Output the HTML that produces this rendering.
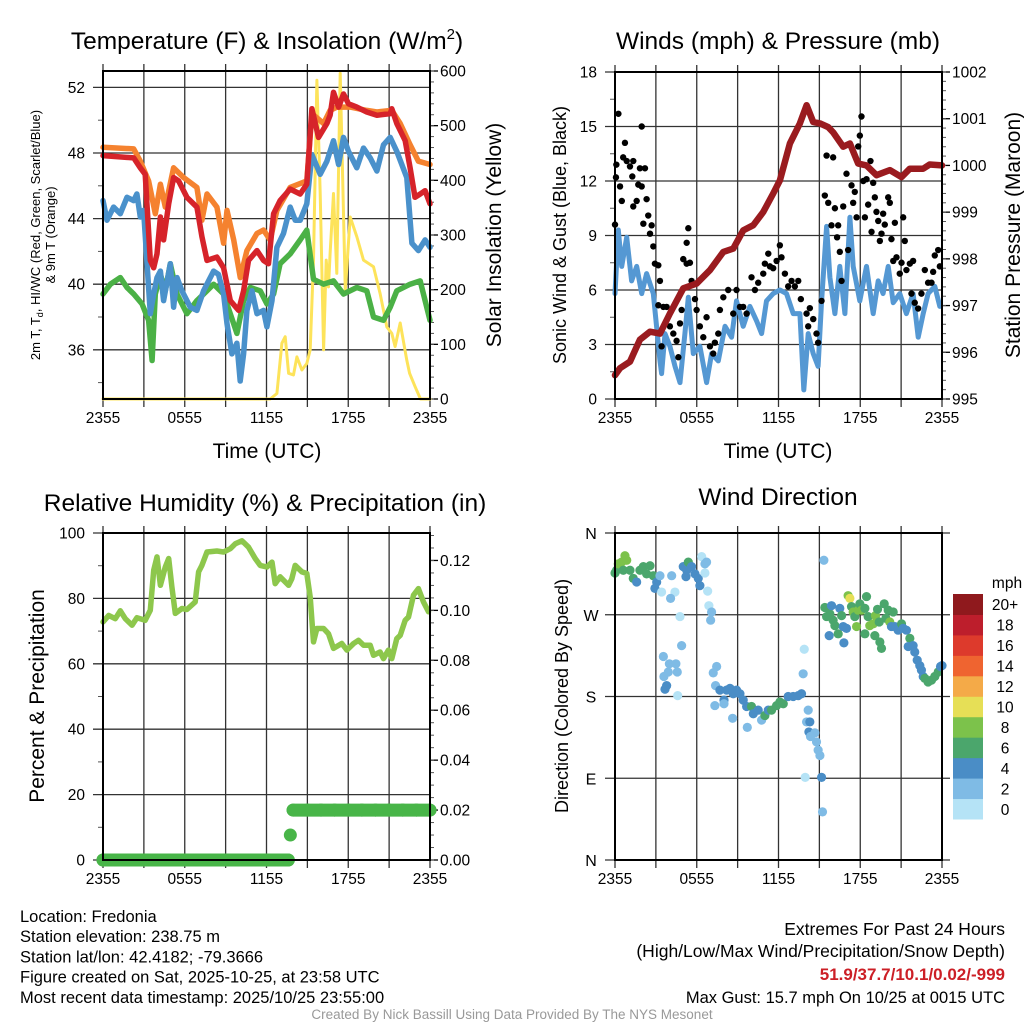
<!DOCTYPE html>
<html><head><meta charset="utf-8"><style>
html,body{margin:0;padding:0;background:#fff;}
svg{display:block;font-family:"Liberation Sans",Arial,sans-serif;}
</style></head><body>
<svg id="s" width="1024" height="1024" viewBox="0 0 1024 1024" xmlns="http://www.w3.org/2000/svg"></svg>
<script>
// ---------- DATA ----------
const xTickLabels = ["2355","0555","1155","1755","2355"];
// Temperature panel [hour, degF]
const tRed = [[0,47.84],[2.25,47.7],[2.74,47.1],[3.1,46.7],[3.47,41.45],[3.72,41.0],[3.96,41.85],[4.21,44.1],[4.45,42.7],[4.82,44.9],[5.18,46.5],[5.55,46.3],[6.16,45.3],[6.89,44.7],[7.26,42.9],[7.63,41.45],[8.36,41.65],[8.85,41.0],[9.34,39.0],[9.95,38.4],[10.32,39.6],[10.68,41.45],[11.3,42.05],[11.78,41.45],[12.15,41.25],[12.52,44.3],[13.0,45.1],[13.74,45.8],[14.47,45.5],[14.96,46.1],[15.33,50.7],[15.82,48.95],[16.43,49.8],[16.67,50.3],[16.92,51.7],[17.29,50.8],[17.65,51.6],[18.02,51.0],[18.63,50.8],[19.36,50.5],[20.1,50.3],[21.08,50.4],[21.2,50.7],[21.56,49.8],[22.18,48.75],[22.54,47.1],[22.9,45.3],[23.28,45.5],[23.64,45.7],[24,44.9]];
const tOrange = [[0,48.35],[2.25,48.25],[2.74,47.5],[3.35,46.3],[3.84,44.3],[4.21,46.1],[4.57,44.7],[5.18,47.1],[5.92,46.5],[6.89,45.9],[7.26,43.9],[7.63,45.5],[8.36,44.7],[8.85,42.5],[9.1,44.5],[9.59,42.7],[10.08,40.4],[10.56,42.05],[11.3,43.1],[11.78,43.3],[12.27,42.7],[12.76,44.5],[13.74,45.9],[14.96,46.3],[15.33,50.4],[16.19,49.8],[16.67,50.6],[17.16,50.8],[18.14,50.8],[19.36,50.6],[20.1,50.5],[21.2,50.6],[21.81,49.8],[22.54,48.5],[23.15,47.5],[24,47.3]];
const tBlue = [[0,45.1],[0.29,43.9],[0.78,44.7],[1.27,44.3],[1.76,45.3],[2.25,45.1],[2.49,45.5],[2.74,44.1],[2.98,44.5],[3.47,38.2],[3.72,39.4],[3.96,40.4],[4.21,40.8],[4.45,39.0],[4.94,41.25],[5.18,38.6],[5.43,40.4],[5.79,39.6],[6.41,38.6],[6.89,38.4],[7.38,39.6],[7.75,40.2],[8.12,40.8],[8.48,40.6],[8.85,39.4],[9.1,37.6],[9.46,35.75],[9.83,36.4],[10.07,34.1],[10.32,35.75],[10.56,38.4],[10.93,39.6],[11.3,38.2],[11.78,38.4],[12.03,37.4],[12.4,39.0],[12.76,42.25],[13.25,43.1],[13.74,44.7],[14.11,43.9],[14.47,43.9],[14.96,44.9],[15.33,47.9],[15.94,46.7],[16.43,47.5],[16.92,48.75],[17.29,47.3],[17.65,48.95],[18.02,48.1],[18.63,47.1],[19.12,48.3],[19.61,47.7],[20.1,46.9],[20.59,48.5],[21.08,48.95],[21.56,48.1],[21.93,47.3],[22.3,46.5],[22.67,42.5],[23.15,42.05],[23.64,42.7],[24,42.25]];
const tGreen = [[0,39.4],[0.54,40.0],[1.27,40.4],[1.76,39.8],[2.25,39.4],[2.86,38.8],[3.35,37.8],[3.6,35.35],[3.84,39.4],[4.21,40.6],[4.57,39.6],[4.94,41.25],[5.43,39.4],[6.16,38.2],[6.89,39.0],[7.63,39.6],[8.12,40.0],[8.85,39.4],[9.34,38.2],[9.83,37.0],[10.32,39.0],[10.81,39.8],[11.54,39.6],[12.03,38.8],[12.52,39.4],[13.0,41.25],[13.74,41.85],[14.47,42.7],[14.96,43.3],[15.45,40.3],[16.19,40.0],[16.92,40.2],[17.65,39.4],[18.63,39.8],[19.36,39.6],[19.85,38.0],[20.59,37.8],[21.08,38.6],[21.56,39.6],[22.54,40.0],[23.28,40.2],[24,37.8]];
const solar = [[0,0],[12.27,0],[12.76,10],[13.13,102],[13.37,114],[13.62,47],[13.98,44],[14.23,77],[14.6,53],[14.96,65],[15.21,90],[15.45,254],[15.7,583],[15.94,376],[16.19,90],[16.38,254],[16.55,205],[16.67,266],[16.92,376],[17.16,230],[17.41,596],[17.78,199],[18.14,333],[18.63,297],[19.12,254],[19.85,242],[20.34,193],[20.83,132],[21.2,120],[21.44,96],[21.81,139],[22.3,71],[22.5,47],[22.9,23],[23.3,0],[24,0]];
// Wind panel
const windSonic = [[0,5.8],[0.24,9.3],[0.49,7.3],[0.86,8.9],[1.22,6.5],[1.59,7.3],[1.96,5.8],[2.32,6.9],[2.81,5.8],[3.3,2.1],[3.42,1.4],[3.67,3.6],[4.03,2.9],[4.4,1.8],[4.77,0.9],[5.13,3.6],[5.38,5.6],[5.75,2.5],[6.23,2.9],[6.72,0.9],[7.09,2.5],[7.58,2.1],[8.07,4.0],[8.56,3.4],[8.92,5.4],[9.41,4.0],[9.9,5.1],[10.39,4.3],[10.76,3.6],[11.12,5.4],[11.61,5.8],[12.1,6.0],[12.59,5.8],[13.08,4.7],[13.57,4.7],[13.86,0.5],[14.18,3.6],[14.55,2.5],[14.91,1.8],[15.16,5.4],[15.53,9.5],[15.77,6.7],[16.14,4.7],[16.5,7.3],[16.87,4.7],[17.24,10.0],[17.48,7.3],[17.97,5.4],[18.46,7.3],[18.95,4.7],[19.32,6.5],[19.68,5.8],[20.05,7.3],[20.42,5.3],[20.9,5.8],[21.39,4.7],[21.88,5.8],[22.25,3.4],[22.62,4.7],[22.98,5.8],[23.47,6.2],[23.84,5.1]];
const windGust = [[0,9.6],[0.1,12.9],[0.25,15.7],[0.07,12.2],[0.37,11.7],[0.5,10.9],[0.73,14.1],[0.6,13.3],[0.86,13.1],[1.1,12.8],[1.34,13.1],[1.27,12.25],[1.96,15.0],[1.83,12.7],[2.2,12.7],[1.71,11.8],[1.96,11.7],[1.34,10.6],[1.59,10.9],[2.32,11.0],[2.44,10.1],[2.08,9.65],[2.69,9.56],[2.57,9.1],[2.81,8.4],[2.93,7.45],[3.18,7.36],[3.3,6.5],[3.18,5.16],[3.55,5.07],[3.79,5.07],[3.42,2.9],[4.03,4.0],[4.28,3.6],[4.52,3.2],[4.65,2.3],[4.77,4.16],[4.89,4.9],[5.01,7.7],[5.26,8.6],[5.38,9.4],[5.26,7.45],[5.5,7.5],[5.62,6.5],[5.87,5.5],[5.99,4.9],[6.23,4.0],[6.48,3.4],[6.72,4.5],[6.97,2.9],[7.21,2.5],[7.33,3.1],[7.58,3.6],[7.7,4.9],[7.95,5.6],[8.31,6.0],[8.68,4.7],[8.92,6.0],[9.17,5.07],[9.41,5.07],[9.66,4.7],[10.02,6.7],[10.27,6.0],[10.51,6.4],[10.88,6.9],[11.0,7.45],[11.25,8.0],[11.37,7.3],[11.61,7.2],[11.86,7.6],[12.1,8.46],[12.22,7.8],[12.47,6.9],[12.71,6.2],[12.96,6.5],[13.2,6.2],[13.45,6.5],[13.64,5.5],[14.06,4.7],[14.3,5.0],[14.18,4.0],[14.55,4.4],[14.79,3.6],[14.91,3.1],[15.16,5.4],[15.4,11.2],[15.65,10.8],[15.53,13.4],[16.01,13.3],[15.89,9.56],[16.38,9.56],[16.14,10.5],[16.3,8.9],[16.5,8.1],[16.63,6.5],[16.75,10.6],[16.99,12.4],[17.11,8.2],[17.36,11.76],[17.48,10.8],[17.6,11.4],[17.73,10.0],[17.85,13.9],[18.09,15.55],[17.97,14.5],[18.22,12.0],[18.46,12.1],[18.34,10.0],[18.58,10.7],[18.75,13.1],[18.83,9.2],[18.95,11.9],[19.07,11.1],[19.19,10.3],[19.32,9.8],[19.44,8.7],[19.56,9.1],[19.68,10.2],[19.8,9.6],[20.05,11.1],[20.17,10.8],[20.29,8.8],[20.42,7.6],[20.54,9.7],[20.66,7.8],[20.9,6.9],[21.03,7.5],[21.15,10.0],[21.27,8.7],[21.39,7.1],[21.64,7.45],[21.88,7.6],[21.76,5.8],[22.0,5.3],[22.25,4.98],[22.49,5.8],[22.74,7.1],[22.98,6.4],[23.23,6.4],[23.35,7.0],[23.47,7.9],[23.72,8.2],[23.84,7.3]];
const pressure = [[0,995.51],[0.37,995.66],[1.1,995.8],[1.83,996.27],[2.57,996.44],[3.3,996.4],[4.03,996.83],[5.01,997.37],[5.99,997.47],[6.97,997.76],[7.95,998.15],[8.68,998.22],[9.41,998.61],[10.15,998.72],[10.88,999.0],[11.61,999.4],[12.1,999.68],[12.84,1000.47],[13.57,1000.9],[14.06,1001.29],[14.55,1000.93],[15.04,1000.9],[15.65,1000.82],[16.01,1000.71],[16.75,1000.4],[17.24,1000.47],[17.85,1000.04],[18.46,1000.0],[19.19,999.79],[20.17,999.9],[21.03,999.75],[21.64,999.93],[22.62,999.93],[23.1,1000.02],[24,1000.0]];
// RH / precipitation panel
const rh = [[0,72.8],[0.42,74.8],[0.9,73.8],[1.27,76.2],[1.64,73.8],[2.13,71.8],[2.49,74.1],[3.1,73.3],[3.47,76.4],[3.72,88.6],[3.96,92.7],[4.21,84.0],[4.57,89.6],[4.82,92.2],[5.06,83.5],[5.31,75.4],[5.79,76.9],[6.16,76.6],[6.77,78.9],[7.02,88.1],[7.26,90.1],[7.63,94.2],[8.36,94.5],[8.85,94.2],[9.34,95.2],[9.71,96.7],[10.2,97.6],[10.68,95.7],[11.17,92.2],[11.54,90.1],[12.03,89.6],[12.4,91.1],[12.64,84.5],[13.0,86.6],[13.62,84.0],[13.86,86.0],[14.11,90.1],[14.6,88.1],[14.96,87.6],[15.21,80.4],[15.45,66.7],[15.7,70.8],[16.19,70.8],[16.55,69.2],[16.92,64.7],[17.53,66.2],[17.9,64.2],[18.39,66.2],[18.75,67.2],[19.12,65.7],[19.61,65.7],[19.85,62.6],[20.34,63.6],[20.59,61.6],[20.95,64.2],[21.2,61.6],[21.56,67.7],[21.81,68.7],[22.18,73.3],[22.42,74.3],[22.79,81.0],[23.15,83.0],[23.52,78.9],[23.89,75.9]];
const precipHours = [0,1,2,3,4,5,6,7,8,9,10,11,12,13,13.6,13.75,13.95,15,16,17,18,19,20,21,22,23,24];
const precipVals  = [0,0,0,0,0,0,0,0,0,0,0,0,0,0,0,0.01,0.02,0.02,0.02,0.02,0.02,0.02,0.02,0.02,0.02,0.02,0.02];
// Wind direction panel [hour, degrees, speed mph]
const windDir = [[0,316,6],[0.12,319,6],[0.24,326,8],[0.49,328,8],[0.73,335,8],[0.86,330,8],[0.61,319,6],[1.1,319,6],[1.34,310,6],[1.59,306,4],[1.83,319,6],[2.08,323,6],[2.32,315,6],[2.57,324,6],[2.81,313,6],[3.06,306,4],[3.3,313,2],[2.93,299,4],[3.42,295,0],[4.16,313,2],[4.4,295,0],[4.08,288,2],[4.77,268,0],[4.89,236,2],[3.55,224,2],[3.99,216,2],[4.47,216,2],[3.91,207,2],[3.59,202,2],[3.79,192,4],[3.67,188,4],[4.57,207,2],[4.6,181,0],[5.01,323,4],[5.26,319,4],[5.38,328,6],[5.62,323,4],[5.87,315,4],[5.21,312,4],[6.11,310,4],[6.23,302,4],[6.36,334,0],[6.6,326,2],[6.72,328,2],[6.6,316,0],[6.8,296,0],[6.89,280,0],[7.09,273,2],[7.02,264,2],[7.21,206,2],[7.46,213,2],[7.38,192,2],[7.7,187,4],[8.0,176,4],[8.19,187,4],[8.44,189,4],[8.68,183,4],[8.92,187,4],[9.17,183,4],[9.41,176,4],[9.66,169,4],[10.02,169,6],[10.15,161,4],[10.51,165,4],[10.76,154,2],[11.0,159,6],[11.25,165,4],[11.49,165,6],[11.86,170,6],[12.1,174,6],[12.35,172,6],[12.71,180,4],[13.08,180,4],[13.45,181,4],[13.69,183,4],[7.33,170,2],[8.0,172,2],[8.63,156,2],[9.71,146,2],[13.81,205,2],[13.89,232,0],[14.18,165,2],[14.06,152,2],[14.3,152,4],[14.23,141,4],[14.35,136,2],[14.67,140,2],[14.79,130,2],[14.91,121,2],[15.04,115,2],[13.96,91,0],[15.16,91,4],[15.23,53,2],[15.33,330,2],[15.4,278,6],[15.53,268,6],[15.77,271,6],[16.01,264,6],[15.72,247,4],[15.89,280,4],[16.14,258,6],[16.5,277,4],[16.63,269,6],[16.38,249,6],[16.75,257,4],[16.99,255,4],[16.8,239,4],[17.11,291,8],[17.24,288,10],[17.36,279,6],[17.48,273,8],[17.6,268,6],[17.85,275,8],[17.73,257,8],[17.97,282,6],[18.09,275,8],[18.34,277,6],[18.46,290,6],[18.34,249,6],[18.58,268,6],[18.7,258,8],[18.95,260,8],[19.07,247,6],[19.12,269,8],[19.27,276,6],[19.39,262,6],[19.44,240,6],[19.56,233,6],[19.76,282,6],[19.88,266,6],[20.05,275,6],[20.17,262,8],[20.42,273,6],[20.29,257,4],[20.54,257,4],[20.78,253,4],[21.03,260,6],[21.15,255,4],[21.39,253,4],[21.64,244,6],[21.52,235,4],[21.88,236,4],[22.0,229,4],[22.18,220,4],[22.37,214,4],[22.49,209,4],[22.62,202,4],[22.74,200,6],[22.98,196,6],[23.23,198,6],[23.47,202,6],[23.72,207,6],[23.89,213,4],[24.0,214,4]];
const speedBins = [0,2,4,6,8,10,12,14,16,18,20];
const binLabels = ["0","2","4","6","8","10","12","14","16","18","20+"];
const binColors = ["#b5e3f6","#7fbbe5","#4a8dc6","#4ba66c","#7cc24b","#e6df56","#f4aa48","#ef6430","#dd3a2c","#bd1e2c","#8f191d"];

// ---------- DRAWING ----------
const NS="http://www.w3.org/2000/svg";
const svg=document.getElementById('s');
function el(tag,attrs,parent){const e=document.createElementNS(NS,tag);for(const k in attrs)e.setAttribute(k,attrs[k]);(parent||svg).appendChild(e);return e;}
function txt(x,y,s,size,anchor,parent,extra){const t=el('text',Object.assign({x:x,y:y,'font-size':size,'text-anchor':anchor||'middle',fill:'#000'},extra||{}),parent);t.textContent=s;return t;}
function lin(d0,d1,r0,r1){return v=>r0+(v-d0)/(d1-d0)*(r1-r0);}

function panel(name,x0,x1,y0,y1){
  const g=el('g',{});
  
  
  const xs=lin(0,24,x0,x1);
  for(let h=0;h<=24;h+=3){
    const l=el('line',{x1:xs(h),x2:xs(h),y1:y0-7,y2:y1+8,stroke:'#333','stroke-width':1.3},g);
    
    
  }
  xTickLabels.forEach((s,i)=>{
    const t=txt(xs(i*6),y1+24,s,15.5,'middle',g);
    
    
  });
  return {g,xs};
}
function box(g,x0,x1,y0,y1){
  const r=el('rect',{x:x0,y:y0,width:x1-x0,height:y1-y0,fill:'none',stroke:'#000','stroke-width':2},g);
  
  
}
function leftAxis(g,x0,x1,ys,ticks,labels,minor){
  ticks.forEach((v,i)=>{
    const l=el('line',{x1:x0-10,x2:x1,y1:ys(v),y2:ys(v),stroke:'#333','stroke-width':1.3},g);
    
    
    const t=txt(x0-18,ys(v)+5.5,labels[i],15.5,'end',g);
    
    
  });
  (minor||[]).forEach(v=>{el('line',{x1:x0-5,x2:x0,y1:ys(v),y2:ys(v),stroke:'#555','stroke-width':1},g);});
}
function rightAxis(g,x1,ys,ticks,labels,minor){
  ticks.forEach((v,i)=>{
    el('line',{x1:x1,x2:x1+8,y1:ys(v),y2:ys(v),stroke:'#000','stroke-width':1.3},g);
    const t=txt(x1+10,ys(v)+5.5,labels[i],15.5,'start',g);
    
    
  });
  minor.forEach(v=>{el('line',{x1:x1,x2:x1+4,y1:ys(v),y2:ys(v),stroke:'#555','stroke-width':1},g);});
}
function path(g,data,xs,ys,color,w,name){
  const d=data.map((p,i)=>(i?'L':'M')+xs(p[0]).toFixed(1)+','+ys(p[1]).toFixed(1)).join('');
  const p=el('path',{d:d,fill:'none',stroke:color,'stroke-width':w,'stroke-linejoin':'round','stroke-linecap':'round'},g);
  
  
  return p;
}
function range(a,b,s){const r=[];for(let v=a;v<=b+1e-9;v+=s)r.push(+v.toFixed(4));return r;}

// ----- Panel 1 : temperature -----
(function(){
  const x0=103,x1=430,y0=71,y1=399;
  const P=panel('temperature-panel',x0,x1,y0,y1);const g=P.g,xs=P.xs;
  const ys=lin(33,53,y1,y0), yr=lin(0,600,y1,y0);
  leftAxis(g,x0,x1,ys,[36,40,44,48,52],["36","40","44","48","52"],[34,38,42,46,50]);
  rightAxis(g,x1,yr,range(0,600,100),["0","100","200","300","400","500","600"],range(0,600,20));
  path(g,solar,xs,yr,'#fde35a',3,'solar-insolation-line');
  path(g,tGreen,xs,ys,'#4bb146',5.5,'dewpoint-line');
  path(g,tBlue,xs,ys,'#4a91cb',5.5,'heat-index-windchill-line');
  path(g,tOrange,xs,ys,'#f5822f',5.5,'temp-9m-line');
  path(g,tRed,xs,ys,'#d6232a',5.5,'temp-2m-line');
  box(g,x0,x1,y0,y1);
  const t1=txt(267,49,'',24.5,'middle',g);t1.innerHTML='Temperature (F) &amp; Insolation (W/m<tspan font-size="15" dy="-10">2</tspan><tspan dy="10">)</tspan>';
  
  const xt=txt(267,458,'Time (UTC)',21,'middle',g);
  const yl=el('text',{transform:'translate(40,235) rotate(-90)','font-size':13,'text-anchor':'middle'},g);
  yl.innerHTML='2m T, T<tspan font-size="9" dy="3">d</tspan><tspan dy="-3">, HI/WC (Red, Green, Scarlet/Blue)</tspan>';
  
  const yl2=txt(0,0,'& 9m T (Orange)',13,'middle',g,{transform:'translate(55,235) rotate(-90)'});
  
  const yr2=txt(0,0,'Solar Insolation (Yellow)',21,'middle',g,{transform:'translate(501,235) rotate(-90)'});
  
})();

// ----- Panel 2 : winds -----
(function(){
  const x0=615,x1=942,y0=72,y1=399;
  const P=panel('wind-pressure-panel',x0,x1,y0,y1);const g=P.g,xs=P.xs;
  const ys=lin(0,18,y1,y0), yp=lin(995,1002,y1,y0);
  leftAxis(g,x0,x1,ys,[0,3,6,9,12,15,18],["0","3","6","9","12","15","18"],[1.5,4.5,7.5,10.5,13.5,16.5]);
  rightAxis(g,x1,yp,range(995,1002,1),["995","996","997","998","999","1000","1001","1002"],range(995,1002,0.2));
  path(g,windSonic,xs,ys,'#5598d3',5,'sonic-wind-line');
  windGust.forEach(p=>{
    const c=el('circle',{cx:xs(p[0]),cy:ys(p[1]),r:3.2,fill:'#000'},g);
    
    
  });
  path(g,pressure,xs,yp,'#9a1b1f',6.5,'pressure-line');
  box(g,x0,x1,y0,y1);
  const t=txt(778,49,'Winds (mph) & Pressure (mb)',24.5,'middle',g);
  const xt=txt(778,458,'Time (UTC)',21,'middle',g);
  const yl=txt(0,0,'Sonic Wind & Gust (Blue, Black)',18,'middle',g,{transform:'translate(566,235) rotate(-90)'});
  
  const yr=txt(0,0,'Station Pressure (Maroon)',21,'middle',g,{transform:'translate(1020,235) rotate(-90)'});
  
})();

// ----- Panel 3 : RH & precip -----
(function(){
  const x0=103,x1=430,y0=533,y1=860;
  const P=panel('humidity-precip-panel',x0,x1,y0,y1);const g=P.g,xs=P.xs;
  const ys=lin(0,100,y1,y0), yp=lin(0,0.131,y1,y0);
  leftAxis(g,x0,x1,ys,[0,20,40,60,80,100],["0","20","40","60","80","100"],[10,30,50,70,90]);
  rightAxis(g,x1,yp,range(0,0.12,0.02),["0.00","0.02","0.04","0.06","0.08","0.10","0.12"],range(0,0.13,0.005));
  path(g,rh,xs,ys,'#8dc74c',5.5,'relative-humidity-line');
  for(let i=0;i<precipHours.length;i++){
    if(i>0 && precipVals[i]===precipVals[i-1]){
      const l=el('line',{x1:xs(precipHours[i-1]),x2:xs(precipHours[i]),y1:yp(precipVals[i]),y2:yp(precipVals[i]),stroke:'#48b548','stroke-width':13,'stroke-linecap':'round'},g);
      
      
    }
    const c=el('circle',{cx:xs(precipHours[i]),cy:yp(precipVals[i]),r:6.5,fill:'#48b548'},g);
    
    
  }
  box(g,x0,x1,y0,y1);
  const t=txt(265,511,'Relative Humidity (%) & Precipitation (in)',24.5,'middle',g);
  const yl=txt(0,0,'Percent & Precipitation',21,'middle',g,{transform:'translate(44,696) rotate(-90)'});
  
})();

// ----- Panel 4 : wind direction -----
(function(){
  const x0=615,x1=942,y0=533,y1=860;
  const P=panel('wind-direction-panel',x0,x1,y0,y1);const g=P.g,xs=P.xs;
  const ys=lin(0,360,y1,y0);
  [0,90,180,270,360].forEach((v,i)=>{
    const l=el('line',{x1:x0-10,x2:x1+8,y1:ys(v),y2:ys(v),stroke:'#333','stroke-width':1.3},g);
    
    const t=txt(591,ys(v)+6,["N","E","S","W","N"][i],16,'middle',g);
    
  });
  function col(s){let k=0;for(let i=0;i<speedBins.length;i++)if(s>=speedBins[i])k=i;return binColors[k];}
  windDir.forEach(p=>{
    const c=el('circle',{cx:xs(p[0]),cy:ys(p[1]),r:4.6,fill:col(p[2])},g);
    
    
  });
  box(g,x0,x1,y0,y1);
  const t=txt(778,505,'Wind Direction',24.5,'middle',g);
  const yl=txt(0,0,'Direction (Colored By Speed)',18,'middle',g,{transform:'translate(568,696) rotate(-90)'});
  
  const cb=el('g',{},g);
  
  const top=594,bot=819,h=(bot-top)/binColors.length;
  binColors.forEach((c,i)=>{
    const r=el('rect',{x:953,y:bot-(i+1)*h,width:30,height:h+0.5,fill:c},cb);
    
    const t=txt(1005,bot-(i+0.5)*h+6,binLabels[i],15.5,'middle',cb);
    
  });
  const u=txt(1007,588,'mph',15.5,'middle',cb);
})();

// ----- Footer -----
(function(){
  const g=el('g',{});
  ["Location: Fredonia","Station elevation: 238.75 m","Station lat/lon: 42.4182; -79.3666","Figure created on Sat, 2025-10-25, at 23:58 UTC","Most recent data timestamp: 2025/10/25 23:55:00"].forEach((s,i)=>{
    const t=txt(20,922+i*20.2,s,16.5,'start',g);
  });
  const a=txt(1005,935,'Extremes For Past 24 Hours',17.5,'end',g);
  const b=txt(1005,957,'(High/Low/Max Wind/Precipitation/Snow Depth)',17.5,'end',g);
  const c=txt(1005,980,'51.9/37.7/10.1/0.02/-999',17,'end',g,{fill:'#cc1f26','font-weight':'bold'});
  const d=txt(1005,1003,'Max Gust: 15.7 mph On 10/25 at 0015 UTC',16.5,'end',g);
  const e=txt(512,1019,'Created By Nick Bassill Using Data Provided By The NYS Mesonet',13.5,'middle',g,{fill:'#999'});
})();
</script>
</body></html>
